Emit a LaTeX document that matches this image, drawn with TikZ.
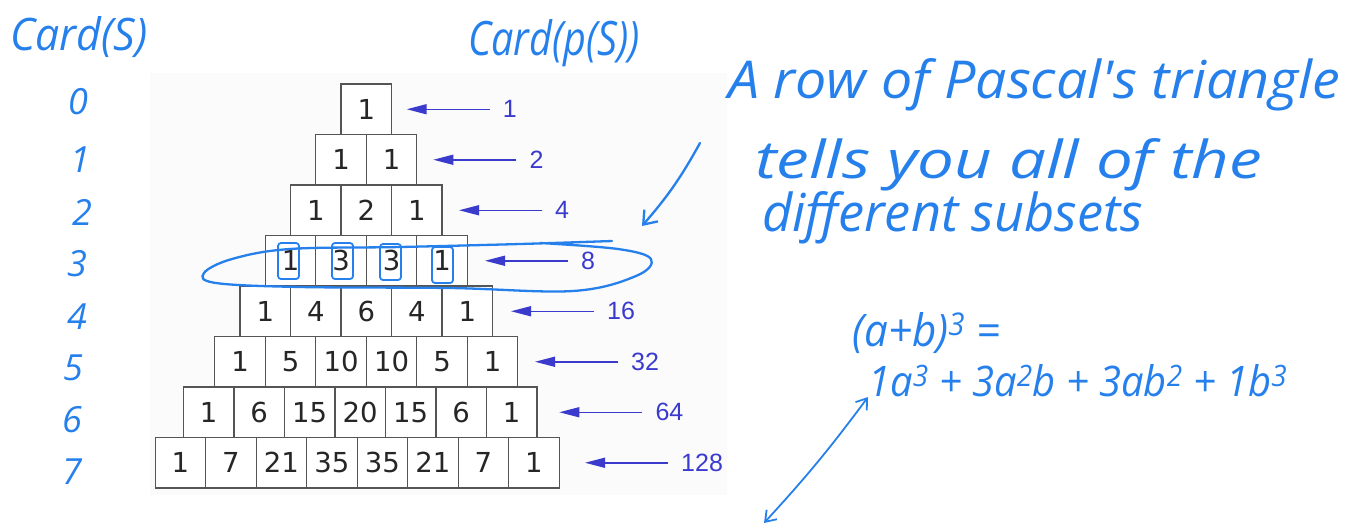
\documentclass[tikz,border=0pt]{standalone}
\usepackage{fontspec}
\setmainfont{DejaVu Sans}
\newfontfamily\labfont{Liberation Sans}
\newfontfamily\hand{Open Sans}
\usetikzlibrary{arrows.meta}
\definecolor{ink}{RGB}{38,128,236}
\definecolor{pointer}{RGB}{58,58,205}
\definecolor{cellline}{RGB}{85,85,85}
\definecolor{panel}{RGB}{251,251,251}
% handwritten text squeezed into a given width and height
\newcommand{\hw}[3]{\resizebox{#1pt}{#2pt}{\hand\itshape\fontsize{40}{40}\selectfont #3}}

\begin{document}
\begin{tikzpicture}[x=1pt,y=-1pt,
  cell/.style={draw=cellline, line width=1.3pt, fill=white,
    minimum width=50.5pt, minimum height=50.5pt, inner sep=0pt,
    font=\fontsize{27.5}{27.5}\selectfont, text=black!85},
  count/.style={font=\labfont\fontsize{25}{25}\selectfont, text=pointer,
    inner sep=0pt, anchor=west},
  pointer arrow/.style={draw=pointer, line width=1.5pt,
    -{Triangle[length=20pt,width=10pt]}, shorten <=13pt},
  pen/.style={draw=ink, line width=2.3pt, line cap=round, line join=round},
  handtext/.style={text=ink, inner sep=0pt},
]
\useasboundingbox (0,0) rectangle (1369,531);
\fill[panel] (150,73) rectangle (727,495);

% Pascal's triangle, one row of cells per level
\foreach \r/\cx/\vals in {0/366.3/{1}, 1/366.3/{1,1}, 2/366.3/{1,2,1},
    3/366.3/{1,3,3,1}, 4/366.3/{1,4,6,4,1}, 5/366.3/{1,5,10,10,5,1},
    6/360.2/{1,6,15,20,15,6,1}, 7/357.2/{1,7,21,35,35,21,7,1}} {
  \foreach \v [count=\k from 0] in \vals {
    \node[cell] (b-\r-\k) at ({\cx+(\k-\r/2)*50.5}, {109.25+\r*50.5}) {\v};
  }
}

% row sums with arrows
\foreach \r/\tx/\s in {0/406.7/1, 1/433.3/2, 2/459/4, 3/485/8,
    4/511/16, 5/535/32, 6/559.3/64, 7/585/128} {
  \coordinate (tip\r) at (\tx, {109.25+\r*50.5});
  \node[count] (cnt\r) at ({\tx+96}, {109.25+\r*50.5}) {\s};
  \draw[pointer arrow] (cnt\r.west) -- (tip\r);
}

% handwritten headings
\node[handtext, anchor=base west] (cardS) at (10,50) {\hw{137}{34}{Card(S)}};
\node[handtext, anchor=base west] (cardP) at (468,55) {\hw{172}{36}{Card(p(S))}};

% handwritten set sizes
\foreach \d/\x/\y in {0/78/102, 1/80/160, 2/82/212, 3/77/264,
    4/77/317, 5/73/368, 6/72/420, 7/72/472} {
  \node[handtext, font=\hand\itshape\fontsize{36}{36}\selectfont] (d\d) at (\x,\y) {\d};
}

% note on the right
\node[handtext, anchor=base west] (note1) at (728,98) {\hw{612}{40}{A row of Pascal's triangle}};
\node[handtext, anchor=base west] (note2) at (755,178) {\hw{507}{40}{tells you all of the}};
\node[handtext, anchor=base west] (note3) at (762,231) {\hw{381}{40}{different subsets}};

\coordinate (noteTail) at (700,143);
\coordinate (noteHead) at (642,226);
\draw[pen, -{Straight Barb[length=12pt,width=18pt]}] (noteTail) to[bend left=6] (noteHead);

% loop round row 3
\draw[pen] plot[smooth, tension=0.6] coordinates {(612,241) (520,244) (400,247)
  (290,249) (232,259) (204,273) (216,283) (300,287) (450,288) (573,291)
  (636,276) (651,259) (618,249) (540,243)};
\foreach \a/\b in {278/243, 332/243, 380/244, 432/247} {
  \draw[pen, line width=1.8pt, rounded corners=3pt] (\a,\b) rectangle ++(21,36);
}

% binomial expansion
\node[handtext, anchor=base west] (binom) at (852,346) {\hw{148}{34}{(a+b)\textsuperscript{3} =}};
\node[handtext, anchor=base west] (expand) at (868,396) {\hw{419}{32}{1a\textsuperscript{3} + 3a\textsuperscript{2}b + 3ab\textsuperscript{2} + 1b\textsuperscript{3}}};

\coordinate (linkTop) at (868,397);
\coordinate (linkBottom) at (764,523);
\draw[pen, line width=1.8pt, {Straight Barb[length=10pt,width=14pt]}-{Straight Barb[length=10pt,width=14pt]}]
  (linkTop) to[bend left=3] (linkBottom);
\end{tikzpicture}
\end{document}
